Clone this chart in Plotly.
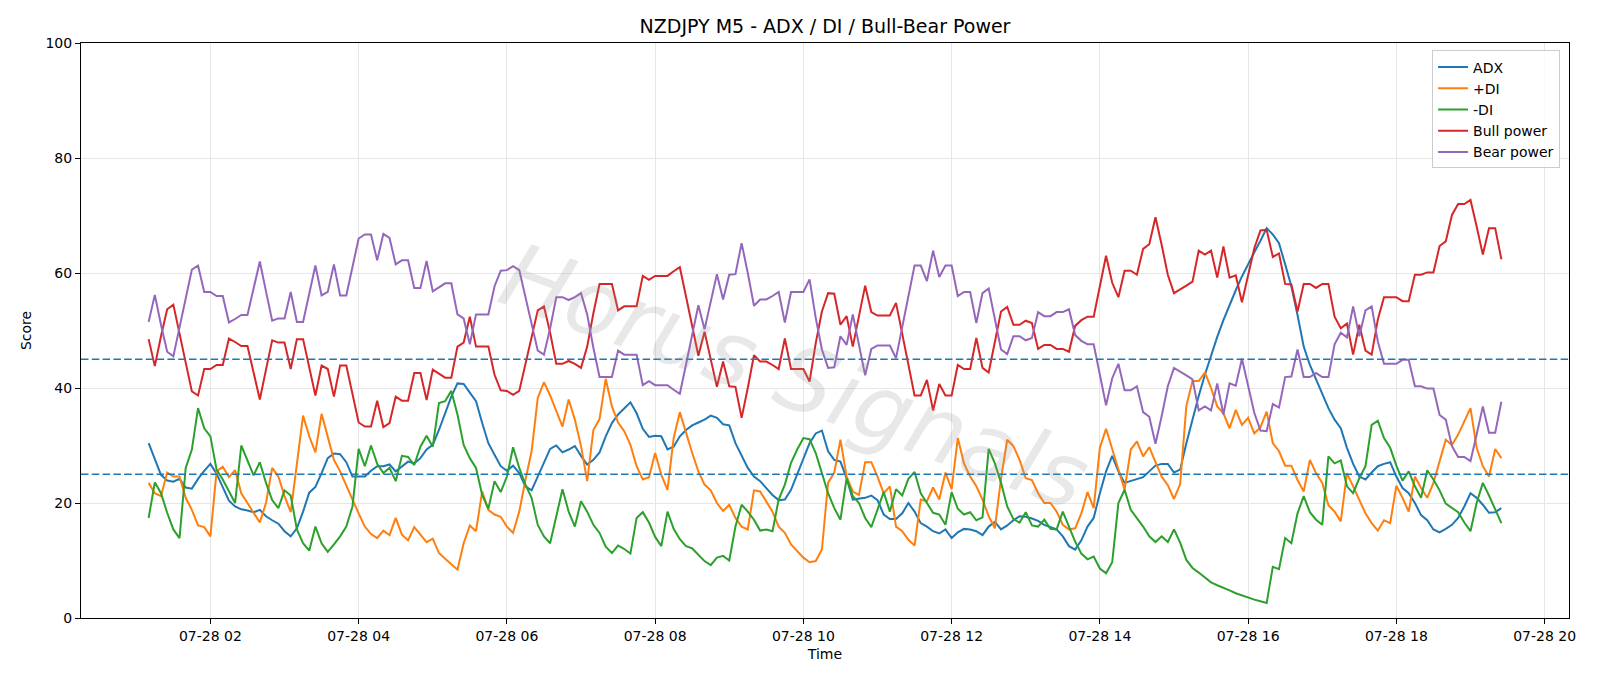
import pandas as pd
import plotly.graph_objects as go

start_time = "2025-07-28 01:10"
n_points = 220

adx = [30.4, 27.5, 24.9, 23.9, 23.7, 24.2, 22.7, 22.5, 24.2, 25.6,
       26.8, 25.1, 22.6, 20.4, 19.4, 18.9, 18.7, 18.4, 18.8, 17.7,
       17.0, 16.4, 15.1, 14.2, 15.6, 18.5, 21.8, 22.8, 25.2, 27.8,
       28.6, 28.5, 27.1, 24.6, 24.6, 24.6, 25.6, 26.4, 26.4, 26.7,
       25.5, 26.4, 27.2, 26.9, 27.8, 29.3, 30.1, 32.7, 35.6, 38.5,
       40.8, 40.7, 39.2, 37.7, 33.9, 30.4, 28.4, 26.4, 25.6, 26.5,
       25.2, 22.9, 22.2, 24.6, 26.9, 29.4, 30.0, 28.8, 29.3, 29.9,
       28.2, 26.7, 27.5, 28.8, 31.6, 33.9, 35.4, 36.5, 37.5, 35.6,
       32.9, 31.5, 31.7, 31.6, 29.3, 29.8, 31.6, 32.7, 33.5, 34.0,
       34.5, 35.2, 34.8, 33.7, 33.5, 30.4, 28.1, 26.1, 24.6, 23.8,
       22.6, 21.4, 20.5, 20.6, 22.3, 24.9, 27.8, 30.4, 32.1, 32.6,
       29.0, 27.5, 27.2, 24.3, 20.6, 20.7, 20.9, 21.3, 20.5, 18.0,
       17.2, 17.2, 18.2, 20.0, 18.5, 16.5, 15.9, 15.1, 14.7, 15.4,
       13.9, 14.9, 15.5, 15.4, 15.1, 14.4, 15.9, 16.7, 15.4, 16.1,
       17.0, 17.7, 17.6, 17.3, 16.9, 16.2, 15.8, 15.4, 14.2, 12.5,
       11.9, 13.5, 15.9, 17.4, 21.7, 25.5, 28.2, 25.5, 23.5, 23.8,
       24.1, 24.5, 25.5, 26.5, 26.8, 26.8, 25.3, 25.8, 30.4, 34.7,
       38.6, 42.3, 45.7, 48.9, 51.8, 54.5, 57.0, 59.4, 61.6, 63.6,
       65.6, 67.8, 66.7, 65.2, 61.5, 57.7, 52.7, 47.2, 44.0, 41.4,
       38.8, 36.5, 34.5, 33.0, 29.6, 26.8, 24.6, 24.1, 25.3, 26.4,
       26.8, 27.1, 24.6, 22.6, 21.7, 20.0, 17.9, 17.0, 15.4, 14.9,
       15.5, 16.2, 17.4, 19.4, 21.7, 20.9, 19.7, 18.3, 18.4, 19.1]

plus_di = [23.5, 21.7, 21.2, 25.3, 24.6, 24.6, 20.9, 18.8, 16.1, 15.8,
           14.2, 25.5, 26.3, 24.5, 25.7, 21.7, 20.0, 18.2, 16.6, 20.0,
           26.1, 24.6, 21.2, 18.4, 27.0, 35.2, 31.6, 28.8, 35.5, 31.6,
           27.5, 25.5, 22.9, 20.6, 18.2, 15.9, 14.6, 13.9, 15.2, 14.4,
           17.4, 14.5, 13.5, 15.8, 14.5, 13.2, 13.8, 11.3, 10.3, 9.3,
           8.4, 13.0, 16.1, 15.1, 22.0, 18.8, 18.0, 17.6, 15.9, 14.8,
           18.5, 24.0, 29.0, 38.3, 41.0, 38.7, 35.9, 33.3, 38.0, 34.5,
           29.9, 23.8, 32.7, 34.6, 41.6, 36.8, 34.0, 32.5, 30.1, 26.4,
           24.1, 24.5, 28.7, 24.9, 22.3, 31.3, 35.8, 32.2, 28.7, 25.5,
           23.2, 22.2, 20.0, 18.6, 19.7, 17.4, 15.9, 15.4, 22.2, 22.0,
           20.3, 18.5, 15.9, 14.8, 12.8, 11.6, 10.5, 9.7, 9.9, 11.9,
           23.5, 25.3, 31.0, 24.6, 22.0, 21.4, 27.1, 27.1, 24.6, 21.7,
           22.9, 15.9, 15.1, 13.6, 12.6, 20.6, 20.3, 22.7, 20.6, 25.3,
           22.4, 31.3, 26.9, 24.6, 22.9, 20.6, 17.7, 15.6, 24.3, 31.0,
           29.9, 27.5, 24.3, 24.0, 21.7, 20.0, 20.0, 18.5, 16.2, 15.4,
           15.6, 18.2, 21.9, 19.1, 29.6, 32.9, 29.3, 25.8, 22.3, 29.3,
           30.7, 28.1, 29.7, 27.1, 24.6, 23.1, 20.7, 23.3, 36.9, 41.2,
           41.2, 42.7, 40.0, 36.8, 35.6, 33.0, 36.2, 33.6, 34.8, 32.1,
           33.2, 35.9, 30.4, 29.0, 26.5, 26.5, 24.0, 22.0, 27.5, 25.2,
           23.5, 19.6, 18.5, 16.8, 25.2, 22.9, 20.6, 18.2, 16.5, 15.2,
           17.0, 16.5, 23.0, 20.9, 18.5, 24.6, 22.6, 20.9, 23.5, 27.2,
           31.0, 30.1, 31.9, 34.2, 36.5, 29.6, 26.4, 24.6, 29.4, 27.8]

minus_di = [17.4, 23.6, 21.7, 18.3, 15.4, 13.9, 26.1, 29.3, 36.5, 33.0,
            31.6, 25.8, 24.1, 22.0, 20.0, 30.0, 27.5, 24.8, 27.1, 23.5,
            20.5, 19.1, 22.2, 21.3, 15.4, 13.0, 11.7, 15.9, 13.0, 11.5,
            12.8, 14.2, 15.9, 19.4, 29.4, 26.4, 30.0, 26.8, 25.2, 26.1,
            23.8, 28.2, 28.0, 26.6, 29.8, 31.7, 29.8, 37.4, 37.7, 39.5,
            35.4, 30.1, 27.8, 26.1, 21.4, 19.0, 23.8, 21.9, 24.6, 29.7,
            26.1, 23.2, 20.9, 16.2, 14.2, 13.0, 17.7, 22.4, 18.5, 15.9,
            20.3, 18.5, 16.2, 14.8, 12.4, 11.3, 12.6, 12.0, 11.2, 17.4,
            18.4, 16.6, 14.1, 12.5, 18.5, 15.5, 13.7, 12.5, 12.1, 11.0,
            9.9, 9.2, 10.5, 10.8, 10.0, 15.9, 19.7, 18.5, 17.1, 15.2,
            15.4, 15.1, 20.6, 23.2, 27.0, 29.3, 31.3, 31.1, 28.7, 25.2,
            21.7, 19.1, 17.1, 24.3, 21.2, 20.0, 17.4, 15.8, 18.8, 21.9,
            18.5, 22.4, 21.3, 24.2, 25.4, 21.7, 20.0, 18.3, 18.0, 16.2,
            21.9, 19.0, 18.0, 18.4, 17.0, 17.5, 29.4, 26.9, 23.5, 19.4,
            17.2, 16.6, 18.4, 16.1, 15.9, 17.1, 15.5, 15.4, 18.5, 15.9,
            13.3, 11.2, 10.2, 10.7, 8.6, 7.8, 9.7, 20.0, 22.3, 18.8,
            17.4, 15.9, 14.2, 13.2, 14.2, 13.2, 15.4, 13.1, 10.1, 8.7,
            7.9, 7.1, 6.2, 5.7, 5.3, 4.8, 4.3, 3.9, 3.5, 3.2,
            2.9, 2.6, 8.9, 8.5, 13.9, 13.0, 18.2, 21.2, 18.4, 17.1,
            16.2, 28.1, 26.9, 27.4, 22.9, 21.7, 24.3, 26.4, 33.6, 34.3,
            31.3, 29.6, 26.5, 23.9, 25.5, 22.9, 20.9, 25.7, 24.1, 22.2,
            19.9, 19.1, 18.4, 16.6, 15.1, 20.0, 23.5, 21.3, 19.0, 16.5]

bull_power = [48.5, 43.8, 49.0, 53.7, 54.5, 49.6, 44.3, 39.4, 38.7, 43.3,
              43.3, 44.0, 44.0, 48.6, 48.0, 47.3, 47.3, 42.6, 38.0, 43.2,
              48.3, 47.9, 47.9, 43.3, 48.5, 48.5, 43.5, 38.7, 43.9, 43.3,
              38.5, 43.9, 43.9, 39.1, 34.0, 33.3, 33.3, 37.8, 33.2, 33.9,
              38.5, 37.8, 37.8, 42.6, 42.6, 37.9, 43.2, 42.5, 41.8, 41.8,
              47.2, 47.9, 52.4, 47.2, 47.2, 47.2, 42.3, 39.6, 39.5, 38.8,
              39.5, 44.0, 49.0, 53.5, 54.2, 49.6, 44.2, 44.2, 44.7, 44.2,
              43.5, 47.2, 53.0, 58.1, 58.1, 58.1, 53.5, 54.2, 54.2, 54.2,
              59.5, 58.8, 59.5, 59.5, 59.5, 60.3, 61.0, 55.9, 50.7, 45.6,
              49.8, 44.9, 40.2, 44.6, 40.3, 40.2, 34.8, 40.0, 45.7, 44.6,
              44.6, 44.0, 43.3, 48.6, 43.3, 43.3, 43.3, 41.1, 47.8, 53.3,
              56.5, 56.4, 51.0, 52.5, 47.2, 52.5, 57.8, 53.2, 52.6, 52.6,
              52.6, 54.8, 49.6, 44.0, 38.7, 38.7, 41.4, 36.1, 40.7, 38.7,
              38.7, 44.0, 43.3, 43.3, 48.7, 43.5, 42.7, 48.0, 53.3, 54.1,
              51.0, 51.0, 51.7, 51.3, 46.8, 47.5, 47.5, 46.8, 46.8, 46.3,
              50.8, 51.8, 52.4, 52.4, 57.7, 63.0, 58.3, 55.8, 60.4, 60.4,
              59.7, 64.2, 65.0, 69.7, 64.9, 59.7, 56.5, 57.1, 57.8, 58.5,
              63.9, 63.2, 63.9, 59.2, 64.6, 59.2, 59.6, 54.9, 59.4, 64.3,
              67.4, 67.5, 62.8, 63.4, 58.1, 58.0, 53.3, 58.1, 58.1, 57.4,
              58.1, 58.1, 52.4, 50.4, 51.2, 45.8, 51.0, 46.5, 45.8, 51.9,
              55.8, 55.8, 55.8, 55.1, 55.1, 59.7, 59.7, 60.1, 60.1, 64.7,
              65.5, 70.1, 72.0, 72.0, 72.7, 68.1, 63.2, 67.8, 67.8, 62.4]

bear_power = [51.5, 56.2, 51.0, 46.3, 45.5, 50.4, 55.7, 60.6, 61.3, 56.7,
              56.7, 56.0, 56.0, 51.4, 52.0, 52.7, 52.7, 57.4, 62.0, 56.8,
              51.7, 52.1, 52.1, 56.7, 51.5, 51.5, 56.5, 61.3, 56.1, 56.7,
              61.5, 56.1, 56.1, 60.9, 66.0, 66.7, 66.7, 62.2, 66.8, 66.1,
              61.5, 62.2, 62.2, 57.4, 57.4, 62.1, 56.8, 57.5, 58.2, 58.2,
              52.8, 52.1, 47.6, 52.8, 52.8, 52.8, 57.7, 60.4, 60.5, 61.2,
              60.5, 56.0, 51.0, 46.5, 45.8, 50.4, 55.8, 55.8, 55.3, 55.8,
              56.5, 52.8, 47.0, 41.9, 41.9, 41.9, 46.5, 45.8, 45.8, 45.8,
              40.5, 41.2, 40.5, 40.5, 40.5, 39.7, 39.0, 44.1, 49.3, 54.4,
              50.2, 55.1, 59.8, 55.4, 59.7, 59.8, 65.2, 60.0, 54.3, 55.4,
              55.4, 56.0, 56.7, 51.4, 56.7, 56.7, 56.7, 58.9, 52.2, 46.7,
              43.5, 43.6, 49.0, 47.5, 52.8, 47.5, 42.2, 46.8, 47.4, 47.4,
              47.4, 45.2, 50.4, 56.0, 61.3, 61.3, 58.6, 63.9, 59.3, 61.3,
              61.3, 56.0, 56.7, 56.7, 51.3, 56.5, 57.3, 52.0, 46.7, 45.9,
              49.0, 49.0, 48.3, 48.7, 53.2, 52.5, 52.5, 53.2, 53.2, 53.7,
              49.2, 48.2, 47.6, 47.6, 42.3, 37.0, 41.7, 44.2, 39.6, 39.6,
              40.3, 35.8, 35.0, 30.3, 35.1, 40.3, 43.5, 42.9, 42.2, 41.5,
              36.1, 36.8, 36.1, 40.8, 35.4, 40.8, 40.4, 45.1, 40.6, 35.7,
              32.6, 32.5, 37.2, 36.6, 41.9, 42.0, 46.7, 41.9, 41.9, 42.6,
              41.9, 41.9, 47.6, 49.6, 48.8, 54.2, 49.0, 53.5, 54.2, 48.1,
              44.2, 44.2, 44.2, 44.9, 44.9, 40.3, 40.3, 39.9, 39.9, 35.3,
              34.5, 29.9, 28.0, 28.0, 27.3, 31.9, 36.8, 32.2, 32.2, 37.6]

threshold_levels = [25, 45]

series = [
    ("ADX", adx, "#1f77b4"),
    ("+DI", plus_di, "#ff7f0e"),
    ("-DI", minus_di, "#2ca02c"),
    ("Bull power", bull_power, "#d62728"),
    ("Bear power", bear_power, "#9467bd"),
]

times = pd.date_range(start_time, periods=n_points, freq="5min")
span = times[-1] - times[0]
x_range = [times[0] - 0.05 * span, times[-1] + 0.05 * span]

FONT = "DejaVu Sans"
fig = go.Figure()
for name, vals, color in series:
    fig.add_trace(go.Scatter(x=times, y=vals, mode="lines", name=name,
                             line=dict(color=color, width=2)))

for lvl in threshold_levels:
    fig.add_shape(type="line", xref="paper", x0=0, x1=1, yref="y", y0=lvl, y1=lvl,
                  line=dict(color="#1f77b4", width=1.6, dash="7.5px,3.3px"), layer="above")

fig.add_annotation(text="<i>Horus Signals</i>", xref="paper", yref="paper", x=0.48, y=0.42,
                   showarrow=False, textangle=20,
                   font=dict(family=FONT, size=90, color="rgba(150,150,150,0.22)"))

fig.update_layout(
    width=1600, height=686,
    margin=dict(l=81, r=31, t=43, b=68),
    paper_bgcolor="white", plot_bgcolor="white",
    font=dict(family=FONT, size=14, color="black"),
    title=dict(text="NZDJPY M5 - ADX / DI / Bull-Bear Power", xref="paper", x=0.5,
               xanchor="center", y=1 - 26 / 686, yanchor="middle",
               font=dict(size=19, family=FONT)),
    legend=dict(x=0.994, y=0.987, xanchor="right", yanchor="top",
                bgcolor="rgba(255,255,255,0.8)", bordercolor="#cccccc", borderwidth=1,
                font=dict(size=14, family=FONT), itemwidth=30, tracegroupgap=0),
    showlegend=True,
)
fig.update_xaxes(range=x_range, tickformat="%m-%d %H", dtick=2 * 3600 * 1000,
                 tick0="2025-07-28 00:00", showgrid=True, gridcolor="#e6e6e6", gridwidth=1,
                 showline=True, linecolor="black", linewidth=1, mirror=True,
                 ticks="outside", ticklen=5, tickcolor="black",
                 title=dict(text="Time", standoff=6, font=dict(size=14)),
                 tickfont=dict(size=14), zeroline=False)
fig.update_yaxes(range=[0, 100], dtick=20, showgrid=True, gridcolor="#e6e6e6", gridwidth=1,
                 showline=True, linecolor="black", linewidth=1, mirror=True,
                 ticks="outside", ticklen=5, tickcolor="black",
                 title=dict(text="Score", standoff=10, font=dict(size=14)),
                 tickfont=dict(size=14), zeroline=False)

fig.write_html("out.html")
